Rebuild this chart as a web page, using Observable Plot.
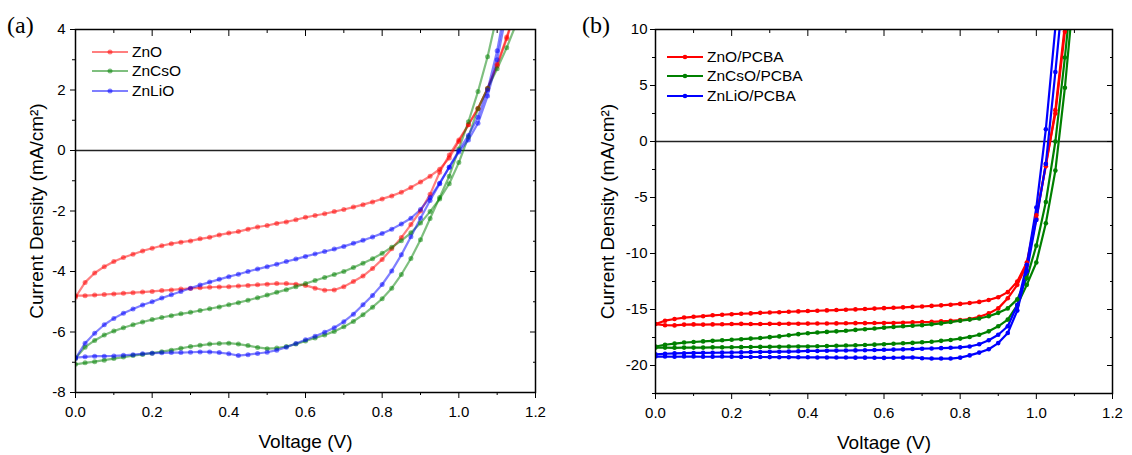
<!DOCTYPE html>
<html><head><meta charset="utf-8">
<script src="https://cdn.jsdelivr.net/npm/d3@7"></script>
<script src="https://cdn.jsdelivr.net/npm/@observablehq/plot@0.6"></script>
<style>
body{margin:0;background:#fff;}
#wrap{position:relative;width:1132px;height:455px;font-family:"Liberation Sans",Arial,sans-serif;color:#000;overflow:hidden;}
.panel{position:absolute;top:0;}
.tag{position:absolute;font-family:"Liberation Serif","Times New Roman",serif;font-size:24px;line-height:24px;}
.legend{position:absolute;font-size:15.5px;}
.legend .row{display:flex;align-items:center;height:19.5px;}
.legend svg{margin-right:4px;}
</style></head><body>
<div id="wrap"></div>
<script>
// Shared voltage grid (V)
const voltages = [0, 0.025, 0.05, 0.075, 0.1, 0.125, 0.15, 0.175,
  0.2, 0.225, 0.25, 0.275, 0.3, 0.325, 0.35, 0.375,
  0.4, 0.425, 0.45, 0.475, 0.5, 0.525, 0.55, 0.575,
  0.6, 0.625, 0.65, 0.675, 0.7, 0.725, 0.75, 0.775,
  0.8, 0.825, 0.85, 0.875, 0.9, 0.925, 0.95, 0.975,
  1.0, 1.025, 1.05, 1.075, 1.1, 1.125, 1.15];

// Panel (a) series
const seriesA = ["ZnO", "ZnCsO", "ZnLiO"];
const znoFwd = [-4.85,-4.36,-4.05,-3.84,-3.67,-3.54,-3.43,-3.32,
  -3.23,-3.15,-3.08,-3.03,-2.99,-2.92,-2.87,-2.79,
  -2.73,-2.68,-2.6,-2.53,-2.48,-2.41,-2.36,-2.29,
  -2.21,-2.15,-2.09,-2.02,-1.95,-1.87,-1.79,-1.7,
  -1.6,-1.5,-1.38,-1.22,-1.04,-0.85,-0.62,-0.25,
  0.3,0.85,1.4,2.05,2.8,3.7,4.7];
const znoRev = [-4.8,-4.8,-4.78,-4.76,-4.74,-4.72,-4.7,-4.68,
  -4.66,-4.63,-4.61,-4.58,-4.56,-4.54,-4.52,-4.51,
  -4.5,-4.48,-4.46,-4.44,-4.42,-4.4,-4.4,-4.42,
  -4.46,-4.55,-4.62,-4.61,-4.5,-4.33,-4.15,-3.9,
  -3.6,-3.25,-2.88,-2.45,-2.0,-1.45,-0.72,-0.15,
  0.35,0.85,1.38,2.05,2.85,3.75,4.75];
const zncsoFwd = [-6.87,-6.5,-6.28,-6.1,-5.97,-5.86,-5.76,-5.67,
  -5.59,-5.52,-5.46,-5.4,-5.35,-5.29,-5.23,-5.17,
  -5.1,-5.03,-4.95,-4.87,-4.78,-4.69,-4.6,-4.5,
  -4.4,-4.3,-4.2,-4.1,-4.0,-3.87,-3.73,-3.58,
  -3.4,-3.2,-2.98,-2.72,-2.4,-2.02,-1.6,-1.1,
  -0.4,0.45,1.38,2.05,2.7,3.4,4.2];
const zncsoRev = [-7.07,-7.02,-6.98,-6.93,-6.88,-6.83,-6.78,-6.74,
  -6.7,-6.65,-6.6,-6.54,-6.48,-6.44,-6.4,-6.38,
  -6.37,-6.4,-6.45,-6.51,-6.55,-6.53,-6.48,-6.4,
  -6.3,-6.2,-6.1,-5.98,-5.83,-5.65,-5.43,-5.18,
  -4.9,-4.55,-4.1,-3.57,-2.95,-2.25,-1.55,-0.85,
  0.05,0.95,1.95,3.1,4.5];
const znlioFwd = [-6.88,-6.37,-6.04,-5.76,-5.55,-5.38,-5.24,-5.11,
  -5.0,-4.88,-4.77,-4.66,-4.55,-4.45,-4.35,-4.26,
  -4.17,-4.09,-4.0,-3.92,-3.84,-3.76,-3.67,-3.59,
  -3.5,-3.42,-3.34,-3.26,-3.17,-3.07,-2.97,-2.86,
  -2.74,-2.6,-2.43,-2.24,-1.95,-1.55,-1.08,-0.55,
  0.0,0.5,1.1,2.0,3.3,5.0];
const znlioRev = [-6.85,-6.82,-6.8,-6.8,-6.79,-6.77,-6.75,-6.72,
  -6.7,-6.69,-6.68,-6.68,-6.67,-6.66,-6.66,-6.68,
  -6.72,-6.78,-6.75,-6.71,-6.67,-6.6,-6.5,-6.38,
  -6.26,-6.14,-6.01,-5.86,-5.66,-5.41,-5.1,-4.79,
  -4.43,-3.98,-3.45,-2.85,-2.24,-1.65,-1.1,-0.55,
  -0.05,0.35,0.9,1.8,3.0,4.6];

// Panel (b) series
const seriesB = ["ZnO/PCBA", "ZnCsO/PCBA", "ZnLiO/PCBA"];
const znoPcbaFwd = [-16.3,-16.0,-15.85,-15.72,-15.65,-15.6,-15.52,-15.47,
  -15.42,-15.38,-15.35,-15.3,-15.27,-15.24,-15.2,-15.17,
  -15.14,-15.11,-15.08,-15.05,-15.02,-14.99,-14.96,-14.92,
  -14.88,-14.85,-14.81,-14.77,-14.73,-14.68,-14.63,-14.57,
  -14.5,-14.42,-14.32,-14.15,-13.9,-13.45,-12.5,-10.8,
  -6.6,-2.2,2.8,10.4];
const znoPcbaRev = [-16.3,-16.4,-16.42,-16.35,-16.33,-16.35,-16.33,-16.32,
  -16.3,-16.28,-16.3,-16.3,-16.28,-16.28,-16.27,-16.27,
  -16.26,-16.25,-16.25,-16.24,-16.23,-16.22,-16.22,-16.21,
  -16.2,-16.2,-16.18,-16.15,-16.12,-16.1,-16.06,-16.02,
  -15.95,-15.85,-15.65,-15.35,-14.9,-14.0,-12.8,-11.0,
  -6.9,-2.0,2.5,9.8,18];
const zncsoPcbaFwd = [-18.3,-18.15,-18.05,-17.95,-17.9,-17.85,-17.8,-17.75,
  -17.7,-17.65,-17.6,-17.55,-17.47,-17.4,-17.3,-17.2,
  -17.12,-17.06,-17.0,-16.95,-16.9,-16.82,-16.76,-16.7,
  -16.62,-16.56,-16.5,-16.45,-16.4,-16.32,-16.24,-16.12,
  -16.0,-15.9,-15.8,-15.6,-15.3,-14.9,-14.1,-12.2,
  -9.3,-5.4,0.0,7.5,16];
const zncsoPcbaRev = [-18.4,-18.4,-18.42,-18.4,-18.4,-18.4,-18.38,-18.38,
  -18.37,-18.36,-18.35,-18.34,-18.33,-18.32,-18.31,-18.3,
  -18.3,-18.28,-18.26,-18.24,-18.22,-18.2,-18.17,-18.14,
  -18.1,-18.06,-18.02,-17.98,-17.93,-17.88,-17.8,-17.72,
  -17.6,-17.45,-17.25,-16.95,-16.5,-15.9,-14.6,-12.8,
  -10.8,-7.3,-2.6,4.8,14];
const znlioPcbaFwd = [-19.0,-18.95,-18.92,-18.9,-18.88,-18.87,-18.86,-18.85,
  -18.84,-18.82,-18.8,-18.79,-18.78,-18.77,-18.76,-18.73,
  -18.7,-18.7,-18.68,-18.67,-18.66,-18.65,-18.64,-18.62,
  -18.6,-18.58,-18.56,-18.53,-18.5,-18.48,-18.45,-18.42,
  -18.38,-18.3,-18.1,-17.75,-17.25,-16.5,-14.6,-11.0,
  -5.9,1.1,10.2];
const znlioPcbaRev = [-19.2,-19.2,-19.22,-19.2,-19.2,-19.22,-19.22,-19.2,
  -19.22,-19.23,-19.24,-19.24,-19.25,-19.26,-19.26,-19.27,
  -19.27,-19.28,-19.28,-19.29,-19.29,-19.3,-19.3,-19.31,
  -19.32,-19.31,-19.3,-19.28,-19.35,-19.38,-19.38,-19.38,
  -19.3,-19.1,-18.85,-18.55,-18.0,-17.1,-15.1,-11.6,
  -7.0,-2.0,6.2,15];

// Ticks
const xMajor = [0, 0.2, 0.4, 0.6, 0.8, 1.0, 1.2];
const xMinor = [0.1, 0.3, 0.5, 0.7, 0.9, 1.1];
const yMajorA = [-8, -6, -4, -2, 0, 2, 4];
const yMinorA = [-7, -5, -3, -1, 1, 3];
const yMajorB = [-20, -15, -10, -5, 0, 5, 10];
const yMinorB = [-22.5, -17.5, -12.5, -7.5, -2.5, 2.5, 7.5];
const colors = ["#ff0000", "#008000", "#0000ff"];
const xTitle = "Voltage (V)";
const yTitle = "Current Density (mA/cm²)";

function buildRows(names, fwd, rev) {
  const rows = [];
  names.forEach((name, k) => {
    [[fwd[k], "fwd"], [rev[k], "rev"]].forEach(([arr, dir]) => {
      arr.forEach((j, i) => rows.push({v: voltages[i], j, series: name, branch: name + "-" + dir}));
    });
  });
  return rows;
}

function makePanel(o) {
  const rows = buildRows(o.names, o.fwd, o.rev);
  return Plot.plot({
    width: 566, height: 455,
    marginLeft: o.ml, marginRight: o.mr, marginTop: 29, marginBottom: o.mb,
    x: {domain: [0, 1.2]},
    y: {domain: o.yDomain},
    color: {domain: o.names, range: colors},
    style: {fontFamily: "'Liberation Sans', Arial, sans-serif", fontSize: "15px", color: "#000", background: "transparent", overflow: "visible"},
    marks: [
      Plot.ruleY([0], {stroke: "#222", strokeWidth: 1.6}),
      Plot.line(rows, {x: "v", y: "j", z: "branch", stroke: "series", strokeWidth: o.sw, strokeOpacity: o.opacity, clip: true}),
      Plot.dot(rows, {x: "v", y: "j", fill: "series", r: o.r, fillOpacity: o.opacity, stroke: "none", clip: true}),
      Plot.frame({stroke: "#000", strokeWidth: 1.5}),
      Plot.axisX(xMajor, {anchor: "bottom", tickSize: 6, tickPadding: 8, tickFormat: d => d.toFixed(1), fontSize: 15, label: null}),
      Plot.axisX(xMinor, {anchor: "bottom", tickSize: 3, fill: "none", label: null}),
      Plot.axisX(xMajor, {anchor: "top", tickSize: 6, dy: 6, fill: "none", label: null}),
      Plot.axisX(xMinor, {anchor: "top", tickSize: 3, dy: 3, fill: "none", label: null}),
      Plot.axisY(o.yMajor, {anchor: "left", tickSize: 5, tickPadding: o.yPad, tickFormat: d => String(d), fontSize: 15, label: null}),
      Plot.axisY(o.yMinor, {anchor: "left", tickSize: 3, fill: "none", label: null}),
      Plot.axisY(o.yMajor, {anchor: "right", tickSize: 6, dx: -6, fill: "none", label: null}),
      Plot.axisY(o.yMinor, {anchor: "right", tickSize: 3, dx: -3, fill: "none", label: null}),
      Plot.text([xTitle], {text: d => d, frameAnchor: "bottom", textAnchor: "middle", lineAnchor: "middle", dy: 49, fontSize: 19}),
      Plot.text([yTitle], {text: d => d, frameAnchor: "left", textAnchor: "middle", lineAnchor: "middle", rotate: -90, dx: o.yTitleDx, fontSize: 19})
    ]
  });
}

function legend(names, opacity, r, left, top) {
  const div = document.createElement("div");
  div.className = "legend";
  div.style.left = left + "px";
  div.style.top = top + "px";
  names.forEach((n, k) => {
    const row = document.createElement("div");
    row.className = "row";
    row.innerHTML = `<svg width="36" height="10"><line x1="0" x2="36" y1="5" y2="5" stroke="${colors[k]}" stroke-opacity="${opacity}" stroke-width="2.2"/><circle cx="18" cy="5" r="${r}" fill="${colors[k]}" fill-opacity="${opacity}"/></svg><span>${n}</span>`;
    div.appendChild(row);
  });
  return div;
}

const wrap = document.getElementById("wrap");

const pa = makePanel({names: seriesA, fwd: [znoFwd, zncsoFwd, znlioFwd], rev: [znoRev, zncsoRev, znlioRev],
  yDomain: [-8, 4], yMajor: yMajorA, yMinor: yMinorA, ml: 75, mr: 31, mb: 63, opacity: 0.5, sw: 2.2, r: 2.5, yPad: 5, yTitleDx: -39});
pa.classList.add("panel"); pa.style.left = "0px";
wrap.appendChild(pa);

const pb = makePanel({names: seriesB, fwd: [znoPcbaFwd, zncsoPcbaFwd, znlioPcbaFwd], rev: [znoPcbaRev, zncsoPcbaRev, znlioPcbaRev],
  yDomain: [-22.5, 10], yMajor: yMajorB, yMinor: yMinorB, ml: 89, mr: 20, mb: 62, opacity: 1, sw: 2.2, r: 2.3, yPad: 3, yTitleDx: -48});
pb.classList.add("panel"); pb.style.left = "566px";
wrap.appendChild(pb);

const ta = document.createElement("div"); ta.className = "tag"; ta.textContent = "(a)"; ta.style.left = "7px"; ta.style.top = "13px"; wrap.appendChild(ta);
const tb = document.createElement("div"); tb.className = "tag"; tb.textContent = "(b)"; tb.style.left = "582px"; tb.style.top = "13px"; wrap.appendChild(tb);

wrap.appendChild(legend(seriesA, 0.5, 2.5, 92, 42));
wrap.appendChild(legend(seriesB, 1, 2.3, 667, 47));
</script>
</body></html>
